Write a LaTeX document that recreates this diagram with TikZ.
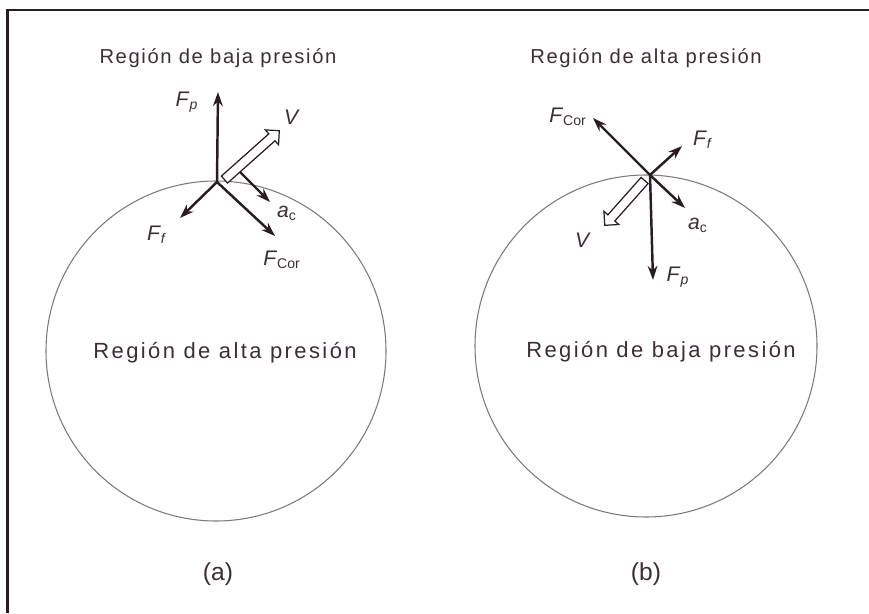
\documentclass[tikz,border=0pt]{standalone}
\usepackage{fontspec}
\setmainfont{Liberation Sans}
\usetikzlibrary{arrows.meta,positioning,shapes.arrows}
\definecolor{inkdark}{HTML}{2A1C22}
\definecolor{textgray}{HTML}{3E2D36}
\definecolor{circlegray}{HTML}{7A7A7A}
\newcommand{\vlab}[2]{\textit{#1}\textsubscript{#2}}
\tikzset{
  force/.style={-{Stealth[length=8pt,width=5.5pt]},line width=1.4pt,inkdark},
  velarrow/.style={single arrow,draw=inkdark,fill=white,line width=0.7pt,anchor=tail,
    inner sep=2.3pt,single arrow head extend=3pt,single arrow head indent=0pt},
  region/.style={circlegray,line width=0.6pt},
  forcelabel/.style={textgray,font=\fontsize{12}{14}\selectfont},
  titlelabel/.style={textgray,font=\fontsize{11.5}{13}\selectfont\addfontfeature{LetterSpace=8}},
  innerlabel/.style={textgray,font=\fontsize{12.5}{14}\selectfont\addfontfeature{LetterSpace=11}},
  caption/.style={textgray,font=\fontsize{14}{16}\selectfont}
}
\begin{document}
\begin{tikzpicture}
\useasboundingbox (0,0) rectangle (17.38,12.26);
% frame
\draw[inkdark,line width=1.6pt] (0.15,0) -- (0.15,12.06) -- (17.38,12.06);

% (a) low pressure above, high pressure inside
\draw[region] (4.32,5.24) circle (3.4);
\node[titlelabel] (titlea) at (4.36,11.10) {Región de baja presión};
\node[innerlabel] (innera) at (4.50,5.20) {Región de alta presión};
\node[caption] (capa) at (4.36,0.78) {(a)};
\coordinate (oa) at (4.34,8.62);
\coordinate (fpa) at (4.36,10.42);
\coordinate (ffa) at (3.60,7.90);
\coordinate (fcora) at (5.50,7.54);
\coordinate (aca0) at (4.80,8.82);
\coordinate (aca) at (5.40,8.22);
\node[velarrow,rotate=41.7,minimum height=1.47cm] (va) at (4.48,8.66) {};
\draw[force] (oa) -- (fpa);
\draw[force] (oa) -- (ffa);
\draw[force] (oa) -- (fcora);
\draw[force] (aca0) -- (aca);
\node[forcelabel] (lfpa) at (3.74,10.22) {\vlab{F}{\textit{p}}};
\node[forcelabel] (lva) at (5.84,9.92) {\textit{V}};
\node[forcelabel] (laca) at (5.74,8.00) {\vlab{a}{c}};
\node[forcelabel] (lfcora) at (5.64,7.06) {\vlab{F}{Cor}};
\node[forcelabel] (lffa) at (3.14,7.56) {\vlab{F}{\textit{f}}};

% (b) high pressure above, low pressure inside
\draw[region] (12.92,5.34) circle (3.42);
\node[titlelabel] (titleb) at (12.92,11.10) {Región de alta presión};
\node[innerlabel] (innerb) at (13.22,5.22) {Región de baja presión};
\node[caption] (capb) at (12.92,0.78) {(b)};
\coordinate (ob) at (13.00,8.76);
\coordinate (fpb) at (13.06,6.66);
\coordinate (ffb) at (13.64,9.34);
\coordinate (fcorb) at (11.86,9.90);
\coordinate (acb) at (13.70,8.10);
\node[velarrow,rotate=228.4,minimum height=1.20cm] (vb) at (12.90,8.66) {};
\draw[force] (ob) -- (fpb);
\draw[force] (ob) -- (ffb);
\draw[force] (ob) -- (fcorb);
\draw[force] (ob) -- (acb);
\node[forcelabel] (lfcorb) at (11.36,9.92) {\vlab{F}{Cor}};
\node[forcelabel] (lffb) at (14.06,9.46) {\vlab{F}{\textit{f}}};
\node[forcelabel] (lacb) at (13.96,7.76) {\vlab{a}{c}};
\node[forcelabel] (lfpb) at (13.56,6.72) {\vlab{F}{\textit{p}}};
\node[forcelabel] (lvb) at (11.66,7.46) {\textit{V}};
\end{tikzpicture}
\end{document}
